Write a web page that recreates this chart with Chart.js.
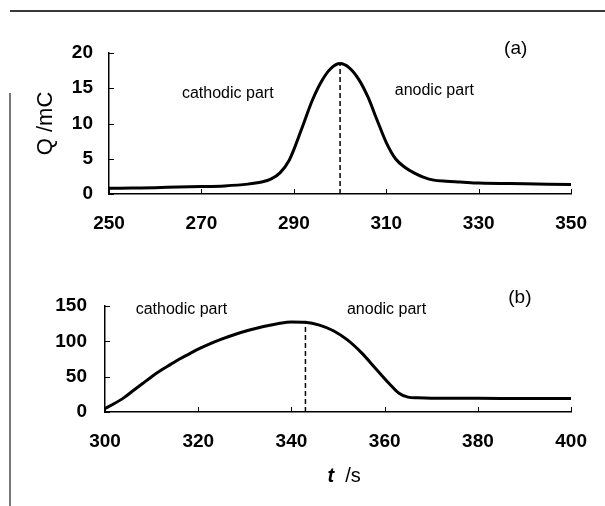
<!DOCTYPE html>
<html>
<head>
<meta charset="utf-8">
<script src="https://cdn.jsdelivr.net/npm/chart.js@4.4.1/dist/chart.umd.min.js"></script>
<style>
  html, body { margin: 0; padding: 0; background: #fff; }
  #page { position: relative; width: 605px; height: 506px; overflow: hidden; }
  .panel { position: absolute; left: 0; width: 605px; }
  #topRule { position: absolute; left: 10px; right: 0; top: 10px; height: 2px; background: #3a3a3a; }
  #leftRule { position: absolute; left: 9px; top: 93px; bottom: 0; width: 2px; background: #777; }
</style>
</head>
<body>
<div id="page">
  <div id="topRule"></div>
  <div id="leftRule"></div>
  <div class="panel" style="top:0;height:250px"><canvas id="chartA" width="605" height="250"></canvas></div>
  <div class="panel" style="top:250px;height:256px"><canvas id="chartB" width="605" height="256"></canvas></div>
</div>
<script>
// (a) charge Q (mC) against time t (s)
const tA = [250, 255, 260, 265, 270, 275, 280, 283, 285, 287, 289, 290, 292, 294, 296, 298, 300,
            302, 304, 306, 308, 310, 312, 314, 316, 318, 320, 323, 326, 330, 340, 350];
const qA = [0.8, 0.85, 0.9, 1.0, 1.05, 1.15, 1.4, 1.7, 2.1, 3.0, 4.8, 6.3, 9.8, 13.3, 16.0, 17.8, 18.5,
            17.9, 16.3, 13.8, 10.5, 7.3, 5.0, 3.8, 3.0, 2.4, 2.0, 1.8, 1.7, 1.55, 1.45, 1.35];
const splitA = 300;
const xTicksA = [250, 270, 290, 310, 330, 350];
const yTicksA = [0, 5, 10, 15, 20];

// (b)
const tB = [300, 302, 304, 306, 308, 310, 312, 314, 316, 318, 320, 322, 325, 328, 331, 334, 337, 340, 343,
            346, 349, 352, 355, 358, 361, 363, 365, 367, 370, 380, 390, 400];
const qB = [5, 12, 20, 30, 40, 50, 59, 67, 75, 82, 89, 95, 103, 110, 116, 121, 125, 127.5, 127,
            123, 115, 102, 84, 62, 40, 27, 21, 20, 19.5, 19.5, 19, 19];
const splitB = 343;
const xTicksB = [300, 320, 340, 360, 380, 400];
const yTicksB = [0, 50, 100, 150];

const FONT = '"Liberation Sans", Arial, sans-serif';
Chart.defaults.font.family = FONT;
Chart.defaults.color = '#000';

// short tick marks drawn on the inside of both axes
const inwardTicks = {
  id: 'inwardTicks',
  afterDraw(chart) {
    const ctx = chart.ctx, area = chart.chartArea;
    const xs = chart.scales.x, ys = chart.scales.y;
    ctx.save();
    ctx.strokeStyle = '#000';
    ctx.lineWidth = 1;
    xs.ticks.forEach(t => {
      const px = Math.round(xs.getPixelForValue(t.value)) + 0.5;
      ctx.beginPath(); ctx.moveTo(px, area.bottom); ctx.lineTo(px, area.bottom - 5); ctx.stroke();
    });
    ys.ticks.forEach(t => {
      const py = Math.round(ys.getPixelForValue(t.value)) + 0.5;
      ctx.beginPath(); ctx.moveTo(area.left, py); ctx.lineTo(area.left + 5, py); ctx.stroke();
    });
    ctx.restore();
  }
};

// free text placed at data coordinates
function notesPlugin(items) {
  return {
    id: 'notes',
    afterDraw(chart) {
      const ctx = chart.ctx;
      ctx.save();
      ctx.fillStyle = '#000';
      ctx.textAlign = 'center';
      ctx.textBaseline = 'middle';
      items.forEach(n => {
        ctx.font = n.font;
        ctx.fillText(n.text, chart.scales.x.getPixelForValue(n.x), chart.scales.y.getPixelForValue(n.y));
      });
      ctx.restore();
    }
  };
}

// "t /s" with an italic t, under the bottom axis
const timeTitle = {
  id: 'timeTitle',
  afterDraw(chart) {
    const ctx = chart.ctx, area = chart.chartArea;
    const italic = 'italic bold 20px ' + FONT, upright = '20px ' + FONT;
    ctx.save();
    ctx.fillStyle = '#000';
    ctx.textBaseline = 'middle';
    ctx.font = italic; const w1 = ctx.measureText('t').width;
    ctx.font = upright; const w2 = ctx.measureText('  /s').width;
    let x = (area.left + area.right) / 2 + 6 - (w1 + w2) / 2;
    const y = area.bottom + 64;
    ctx.font = italic; ctx.fillText('t', x, y);
    ctx.font = upright; ctx.fillText('  /s', x + w1, y);
    ctx.restore();
  }
};

function makeChart(id, t, q, split, xTicks, yTicks, box, notes, extra) {
  const curve = t.map((v, i) => ({ x: v, y: q[i] }));
  const splitTop = q[t.indexOf(split)];
  return new Chart(document.getElementById(id), {
    type: 'line',
    data: {
      datasets: [
        {
          data: curve,
          borderColor: '#000',
          borderWidth: 3,
          pointRadius: 0,
          cubicInterpolationMode: 'monotone',
          fill: false
        },
        {
          data: [{ x: split, y: 0 }, { x: split, y: splitTop }],
          borderColor: '#000',
          borderWidth: 1.5,
          borderDash: [5, 3],
          pointRadius: 0,
          fill: false
        }
      ]
    },
    options: {
      responsive: false,
      animation: false,
      devicePixelRatio: 1,
      layout: { padding: { top: box.top, right: box.right, left: 0, bottom: 0 } },
      plugins: { legend: { display: false }, tooltip: { enabled: false } },
      scales: {
        x: {
          type: 'linear',
          min: xTicks[0],
          max: xTicks[xTicks.length - 1],
          afterBuildTicks: s => { s.ticks = xTicks.map(v => ({ value: v })); },
          afterFit: s => { s.height = box.xHeight; },
          grid: { display: false, drawTicks: false },
          border: { display: true, color: '#000', width: 1.5 },
          ticks: { padding: 18, maxRotation: 0, font: { size: 19, weight: 'bold' } }
        },
        y: {
          type: 'linear',
          min: yTicks[0],
          max: yTicks[yTicks.length - 1],
          afterBuildTicks: s => { s.ticks = yTicks.map(v => ({ value: v })); },
          afterFit: s => { s.width = box.yWidth; },
          grid: { display: false, drawTicks: false },
          border: { display: true, color: '#000', width: 1.5 },
          ticks: { padding: box.yPad, font: { size: 19, weight: 'bold' } },
          title: box.yTitle ? {
            display: true,
            text: box.yTitle,
            font: { size: 22 },
            padding: { top: 33, bottom: 0 }
          } : { display: false }
        }
      }
    },
    plugins: [inwardTicks, notesPlugin(notes)].concat(extra)
  });
}

makeChart('chartA', tA, qA, splitA, xTicksA, yTicksA,
  { top: 53, right: 33, xHeight: 56, yWidth: 109, yPad: 16, yTitle: 'Q /mC' },
  [
    { text: 'cathodic part', x: 275.7, y: 14.3, font: '16px ' + FONT },
    { text: 'anodic part', x: 320.4, y: 14.6, font: '16px ' + FONT },
    { text: '(a)', x: 338, y: 20.6, font: '19px ' + FONT }
  ], []);

makeChart('chartB', tB, qB, splitB, xTicksB, yTicksB,
  { top: 56, right: 30, xHeight: 94, yWidth: 105, yPad: 18, yTitle: null },
  [
    { text: 'cathodic part', x: 316.4, y: 145, font: '16px ' + FONT },
    { text: 'anodic part', x: 360.4, y: 145, font: '16px ' + FONT },
    { text: '(b)', x: 389, y: 161, font: '19px ' + FONT }
  ], [timeTitle]);
</script>
</body>
</html>
